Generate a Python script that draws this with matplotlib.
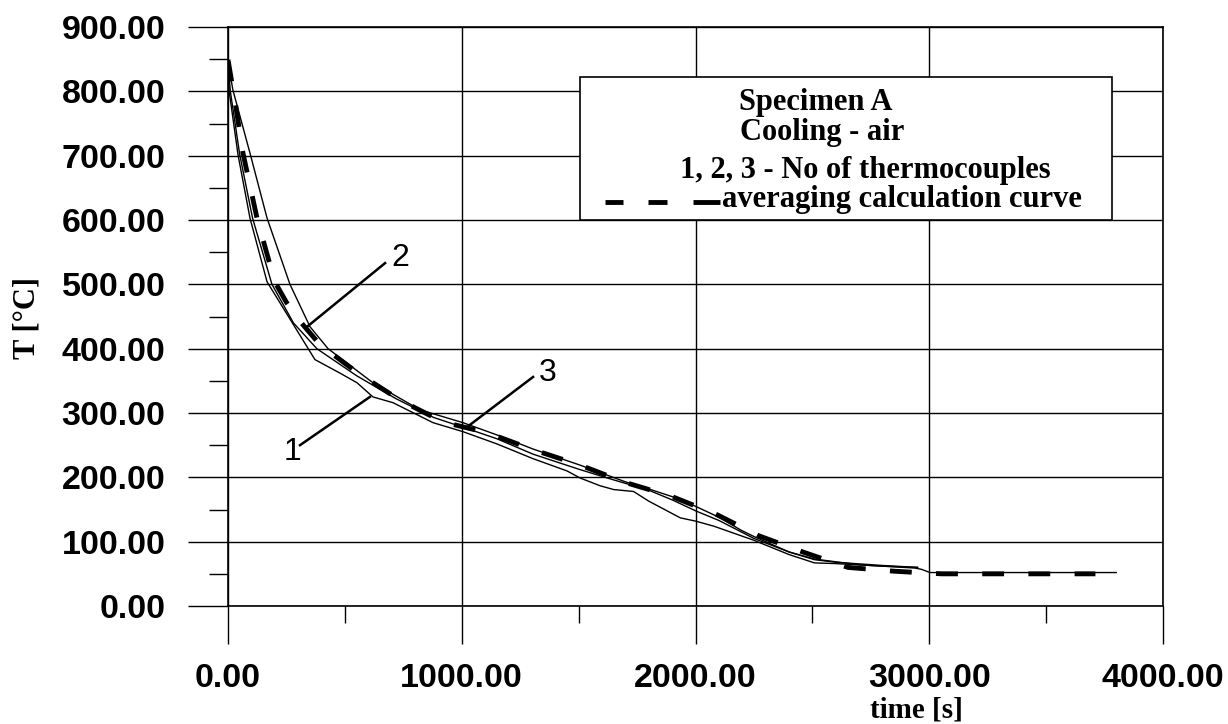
import matplotlib
matplotlib.use("Agg")
import matplotlib.pyplot as plt
from matplotlib.patches import Rectangle
from matplotlib.ticker import MultipleLocator, FormatStrFormatter

plt.rcParams["font.family"] = ["Liberation Sans", "DejaVu Sans"]

# thermocouple 1 (dips below the others around 400 C)
t1 = [0, 5, 43, 94, 167, 338, 372, 479, 552, 620, 706, 877, 1005, 1150, 1305,
      1450, 1506, 1591, 1650, 1735, 1800, 1935, 2000, 2079, 2251, 2400, 2509,
      2595, 2800, 2950]
T1 = [846, 800, 701, 603, 504, 403, 383, 362, 347, 325, 316, 285, 271, 252, 229,
      210, 199, 187, 181, 178, 163, 137, 132, 124, 102, 80, 67,
      66, 62, 60]

# thermocouple 2 (slowest at the start)
t2 = [0, 21, 94, 167, 265, 351, 428, 620, 821, 1005, 1150, 1305, 1506, 1700,
      1800, 1900, 2000, 2100, 2194, 2250, 2400, 2509, 2700, 2938, 2967, 3003, 3800]
T2 = [846, 802, 704, 603, 500, 434, 400, 347, 305, 285, 266, 244, 219, 193,
      182, 170, 155, 138, 118, 108, 84, 73, 64, 59, 57, 52, 52]

# thermocouple 3
t3 = [0, 10, 50, 105, 188, 280, 380, 550, 720, 880, 1005, 1150, 1305, 1506,
      1650, 1800, 1900, 2000, 2100, 2250, 2400, 2509, 2600, 2800, 2950]
T3 = [846, 800, 702, 603, 500, 440, 400, 358, 322, 293, 278, 260, 236, 212,
      196, 180, 165, 148, 133, 105, 84, 72, 68, 63, 60]

# averaging calculation curve
t_avg = [0, 30, 64, 124, 200, 250, 300, 394, 556, 736, 920, 1112, 1305, 1506,
         1700, 1893, 2086, 2272, 2459, 2652, 2853, 3053, 3711]
T_avg = [849, 785, 704, 603, 504, 472, 446, 406, 362, 320, 286, 269, 243, 219,
         192, 171, 143, 109, 84, 60, 54, 50, 50]

# curve labels: (text, text position, leader start, leader end) in data units
labels = [
    ("1", (274, 239), (308, 250), (607, 325)),
    ("2", (736, 541), (672, 533), (338, 434)),
    ("3", (1369, 362), (1305, 356), (1022, 278)),
]

legend_lines = ["Specimen A", "Cooling - air", "1, 2, 3 - No of thermocouples",
                "averaging calculation curve"]

fig = plt.figure(figsize=(12.28, 7.24), dpi=100)
ax = fig.add_axes([228 / 1228, 1 - 606 / 724, 935 / 1228, 579 / 724])

for t, T in [(t1, T1), (t2, T2), (t3, T3)]:
    ax.plot(t, T, color="black", lw=1.0, zorder=3)
ax.plot(t_avg, T_avg, color="black", lw=3.5, dashes=(4.5, 5), zorder=4)

for txt, pos, start, end in labels:
    ax.plot([start[0], end[0]], [start[1], end[1]], color="black", lw=1.8, zorder=4)
    ax.text(pos[0], pos[1], txt, fontsize=23, ha="center", va="center", zorder=6)

ax.set_xlim(0, 4000)
ax.set_ylim(0, 900)
ax.xaxis.set_major_locator(MultipleLocator(1000))
ax.xaxis.set_minor_locator(MultipleLocator(500))
ax.yaxis.set_major_locator(MultipleLocator(100))
ax.yaxis.set_minor_locator(MultipleLocator(50))
ax.xaxis.set_major_formatter(FormatStrFormatter("%.2f"))
ax.yaxis.set_major_formatter(FormatStrFormatter("%.2f"))
ax.grid(True, which="major", color="black", lw=1.0)
ax.set_axisbelow(True)
for s in ax.spines.values():
    s.set_linewidth(1.2)

ax.tick_params(axis="y", which="major", length=29, width=1.0, pad=16, labelsize=24.5)
ax.tick_params(axis="y", which="minor", length=14, width=1.0)
ax.tick_params(axis="x", which="major", length=27, width=1.0, pad=14, labelsize=24.5)
ax.tick_params(axis="x", which="minor", length=12, width=1.0)
for lab in ax.get_xticklabels() + ax.get_yticklabels():
    lab.set_fontweight("bold")

fig.text(916 / 1228, 1 - 710 / 724, "time [s]", family="Liberation Serif",
         weight="bold", fontsize=21, ha="center", va="center")
fig.text(27 / 1228, 1 - 318 / 724, "T [°C]", family="Liberation Serif",
         weight="bold", fontsize=22, ha="center", va="center", rotation=90)

# legend box
ax.add_patch(Rectangle((0.3765, 0.6667), 0.569, 0.247, transform=ax.transAxes,
                       facecolor="white", edgecolor="black", lw=1.2, zorder=5))
serif = dict(family="Liberation Serif", weight="bold", fontsize=22,
             transform=ax.transAxes, zorder=6, va="baseline")
ax.text(0.629, 0.857, legend_lines[0], ha="center", **serif)
ax.text(0.635, 0.805, legend_lines[1], ha="center", **serif)
ax.text(0.483, 0.739, legend_lines[2], ha="left", **serif)
ax.text(0.528, 0.689, legend_lines[3], ha="left", **serif)
for x0, x1 in [(0.403, 0.422), (0.449, 0.470), (0.497, 0.526)]:
    ax.plot([x0, x1], [0.698, 0.698], color="black", lw=3.5,
            transform=ax.transAxes, zorder=6, solid_capstyle="butt")

fig.savefig("out.png", dpi=100)
